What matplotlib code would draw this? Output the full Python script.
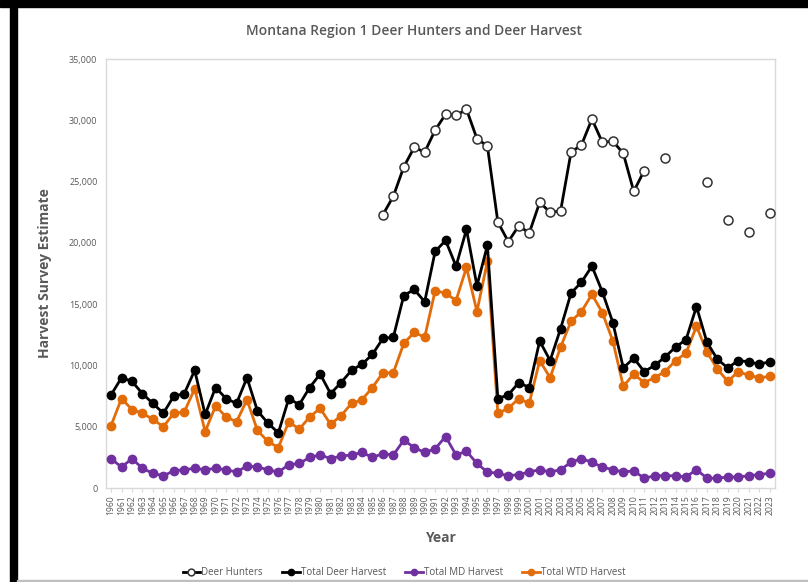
import numpy as np
import matplotlib
matplotlib.use("Agg")
import matplotlib.pyplot as plt
from matplotlib.patches import Rectangle
from matplotlib.ticker import FuncFormatter

plt.rcParams['font.family'] = ['Open Sans', 'DejaVu Sans']

years = list(range(1960, 2024))

# Deer hunters: surveyed 1986-2011, then every other year from 2013 (NaN = no survey)
hunters = {
    1986: 22300, 1987: 23800, 1988: 26200, 1989: 27800, 1990: 27400,
    1991: 29200, 1992: 30500, 1993: 30400, 1994: 30900, 1995: 28500,
    1996: 27900, 1997: 21700, 1998: 20100, 1999: 21400, 2000: 20800,
    2001: 23300, 2002: 22500, 2003: 22600, 2004: 27400, 2005: 28000,
    2006: 30100, 2007: 28200, 2008: 28300, 2009: 27300, 2010: 24200,
    2011: 25900, 2013: 26900, 2017: 25000, 2019: 21900, 2021: 20900,
    2023: 22400,
}
deer_hunters = [hunters.get(y, np.nan) for y in years]

total_harvest = [
    7600, 9000, 8700, 7700, 6900, 6100, 7500, 7700, 9600, 6000,
    8200, 7300, 6900, 9000, 6300, 5300, 4500, 7300, 6800, 8200,
    9300, 7700, 8600, 9600, 10100, 10900, 12200, 12300, 15700, 16200,
    15200, 19300, 20200, 18100, 21100, 16500, 19800, 7300, 7600, 8600,
    8200, 12000, 10400, 13000, 15900, 16800, 18100, 16000, 13500, 9800,
    10600, 9500, 10000, 10700, 11500, 12100, 14800, 11900, 10500, 9800,
    10400, 10300, 10100, 10300,
]

md_harvest = [
    2400, 1700, 2400, 1600, 1200, 1000, 1400, 1500, 1600, 1500,
    1600, 1500, 1300, 1800, 1700, 1500, 1300, 1900, 2000, 2500,
    2700, 2400, 2600, 2700, 2900, 2500, 2800, 2700, 3900, 3300,
    2900, 3200, 4200, 2700, 3000, 2000, 1300, 1200, 1000, 1100,
    1300, 1500, 1300, 1500, 2100, 2400, 2100, 1700, 1500, 1300,
    1400, 800, 1000, 1000, 1000, 900, 1500, 800, 800, 900,
    900, 1000, 1100, 1200,
]

wtd_harvest = [
    5100, 7300, 6400, 6100, 5600, 5000, 6100, 6200, 8100, 4600,
    6700, 5800, 5400, 7200, 4700, 3800, 3300, 5400, 4800, 5800,
    6500, 5200, 5900, 6900, 7200, 8200, 9400, 9400, 11800, 12700,
    12300, 16100, 15900, 15300, 18000, 14400, 18500, 6100, 6500, 7300,
    6900, 10400, 9000, 11500, 13600, 14400, 15800, 14300, 12000, 8300,
    9300, 8600, 9000, 9500, 10400, 11000, 13200, 11100, 9700, 8700,
    9500, 9200, 9000, 9100,
]

gray_text = '#595959'
black = '#000000'
purple = '#7030A0'
orange = '#E36C0A'

fig = plt.figure(figsize=(8.08, 5.82), dpi=100)
ax = fig.add_axes([0.131, 0.1615, 0.828, 0.737])

ax.plot(years, deer_hunters, color=black, lw=2, marker='o', ms=6.5,
        mfc='white', mec='#333333', mew=1.1, label='Deer Hunters', zorder=5)
ax.plot(years, total_harvest, color=black, lw=2, marker='o', ms=6,
        label='Total Deer Harvest', zorder=4)
ax.plot(years, md_harvest, color=purple, lw=2, marker='o', ms=6,
        label='Total MD Harvest', zorder=3)
ax.plot(years, wtd_harvest, color=orange, lw=2, marker='o', ms=6,
        label='Total WTD Harvest', zorder=3)

ax.set_xlim(1959.5, 2023.5)
ax.set_ylim(0, 35000)
ax.set_yticks(np.arange(0, 35001, 5000))
ax.yaxis.set_major_formatter(FuncFormatter(lambda v, p: f'{int(v):,}'))
ax.set_xticks(years)
ax.set_xticklabels([str(y) for y in years], rotation=90, fontsize=6.2, color=gray_text)
ax.tick_params(axis='y', labelsize=6.5, colors=gray_text, length=0, pad=6)
ax.tick_params(axis='x', length=3, color='#d9d9d9', pad=2)

for side in ['top', 'right', 'left', 'bottom']:
    ax.spines[side].set_color('#d9d9d9')
    ax.spines[side].set_linewidth(1)

fig.text(0.512, 0.947, 'Montana Region 1 Deer Hunters and Deer Harvest', fontsize=10,
         color=gray_text, fontweight='semibold', ha='center', va='center')
ax.set_ylabel('Harvest Survey Estimate', fontsize=10, color=gray_text,
              fontweight='bold', labelpad=12)
ax.set_xlabel('Year', fontsize=10, color=gray_text, fontweight='bold', labelpad=12)

fig.legend(loc='lower center', bbox_to_anchor=(0.5, -0.008), ncol=4, frameon=False,
           fontsize=7, handlelength=1.8, handletextpad=0.1, columnspacing=2.0,
           markerscale=0.75, labelcolor=gray_text)

# black frame pieces around the screenshot
fig.patches.append(Rectangle((0, 0.988), 1, 0.012, transform=fig.transFigure,
                             color='black', zorder=10))
fig.patches.append(Rectangle((0.0124, 0), 0.0087, 1, transform=fig.transFigure,
                             color='black', zorder=10))
fig.patches.append(Rectangle((0.021, 0.0), 0.979, 0.003, transform=fig.transFigure,
                             color='#bfbfbf', zorder=10))

fig.savefig('out.png', dpi=100)
